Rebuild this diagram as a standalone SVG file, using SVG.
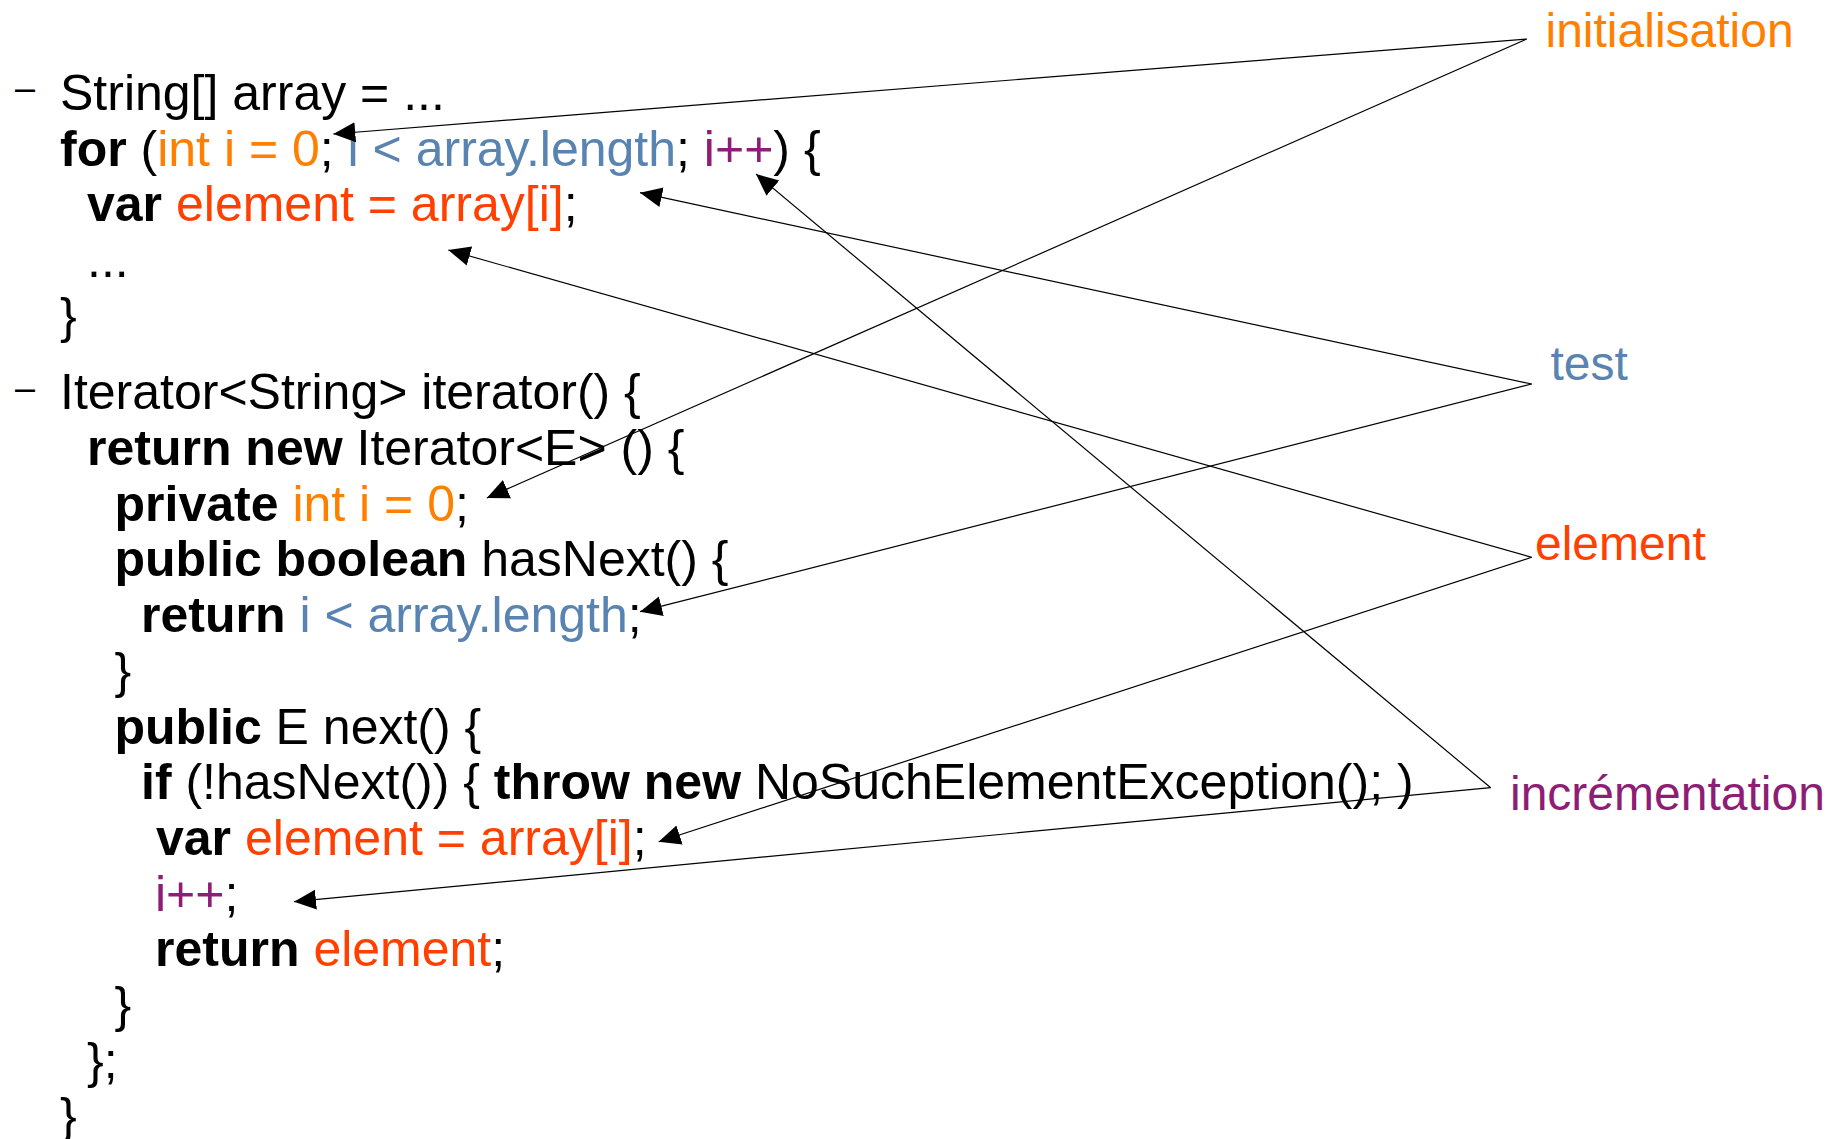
<svg xmlns="http://www.w3.org/2000/svg" width="1846" height="1139" viewBox="0 0 1846 1139">
  <style>
    text { font-family: "Liberation Sans", Arial, sans-serif; font-size: 50px; fill: #000; }
    .b { font-weight: bold; }
    .ini { fill: #ff8000; }
    .tst { fill: #5983b0; }
    .elt { fill: #ff4000; }
    .inc { fill: #8d1d75; }
    .dash { font-size: 36px; }
    .label { font-size: 48px; }
    .conn line { stroke: #000; stroke-width: 1.2; fill: none; marker-end: url(#arrow); }
  </style>
  <defs>
    <marker id="arrow" markerUnits="userSpaceOnUse" markerWidth="24" markerHeight="22" viewBox="0 -11 24 22" refX="22" refY="0" orient="auto">
      <path d="M0,-10 L22,0 L0,10 Z" fill="#000"/>
    </marker>
  </defs>
  <rect width="1846" height="1139" fill="#fff"/>

  <!-- code listing: for loop over an array -->
  <g id="code-for-loop" xml:space="preserve">
    <text class="dash" x="15" y="100">–</text>
    <text x="60" y="110">String[] array = ...</text>
    <text x="60" y="165.7"><tspan class="b">for</tspan> (<tspan class="ini">int i = 0</tspan>;<tspan class="tst"> i &lt; array.length</tspan>; <tspan class="inc">i++</tspan>) {</text>
    <text x="87" y="221.4"><tspan class="b">var</tspan> <tspan class="elt">element = array[i]</tspan>;</text>
    <text x="87" y="277.1">...</text>
    <text x="60" y="332.8">}</text>
  </g>

  <!-- code listing: equivalent iterator -->
  <g id="code-iterator" xml:space="preserve">
    <text class="dash" x="15" y="400">–</text>
    <text x="60" y="409.3">Iterator&lt;String&gt; iterator() {</text>
    <text x="87" y="465"><tspan class="b">return new</tspan> Iterator&lt;E&gt; () {</text>
    <text x="114.5" y="520.7"><tspan class="b">private</tspan> <tspan class="ini">int i = 0</tspan>;</text>
    <text x="114.5" y="576.4"><tspan class="b">public boolean</tspan> hasNext() {</text>
    <text x="141" y="632.1"><tspan class="b">return</tspan> <tspan class="tst">i &lt; array.length</tspan>;</text>
    <text x="114.5" y="687.8">}</text>
    <text x="114.5" y="743.5"><tspan class="b">public</tspan> E next() {</text>
    <text x="141" y="799.2"><tspan class="b">if</tspan> (!hasNext()) { <tspan class="b">throw new</tspan> NoSuchElementException(); )</text>
    <text x="156" y="854.9"><tspan class="b">var</tspan> <tspan class="elt">element = array[i]</tspan>;</text>
    <text x="155" y="910.6"><tspan class="inc">i++</tspan>;</text>
    <text x="155" y="966.3"><tspan class="b">return</tspan> <tspan class="elt">element</tspan>;</text>
    <text x="114.5" y="1022">}</text>
    <text x="87" y="1077.7">};</text>
    <text x="60" y="1133.4">}</text>
  </g>

  <!-- labels -->
  <g id="label-initialisation"><text class="label ini" x="1545.5" y="46.7">initialisation</text></g>
  <g id="label-test"><text class="label tst" x="1550.5" y="380">test</text></g>
  <g id="label-element"><text class="label elt" x="1535" y="560">element</text></g>
  <g id="label-incrementation"><text class="label inc" x="1510" y="810">incrémentation</text></g>

  <!-- connectors from each label to the matching code parts -->
  <g id="connectors" class="conn">
    <line x1="1526.7" y1="39" x2="333.3" y2="134"/>
    <line x1="1526.7" y1="39" x2="486.8" y2="498"/>
    <line x1="1531.7" y1="384" x2="640" y2="192.7"/>
    <line x1="1531.7" y1="384" x2="640" y2="611.7"/>
    <line x1="1531.7" y1="557.3" x2="448.3" y2="250"/>
    <line x1="1531.7" y1="557.3" x2="658.6" y2="841.7"/>
    <line x1="1490.7" y1="787.7" x2="756" y2="174"/>
    <line x1="1490.7" y1="787.7" x2="294" y2="901.7"/>
  </g>
</svg>
